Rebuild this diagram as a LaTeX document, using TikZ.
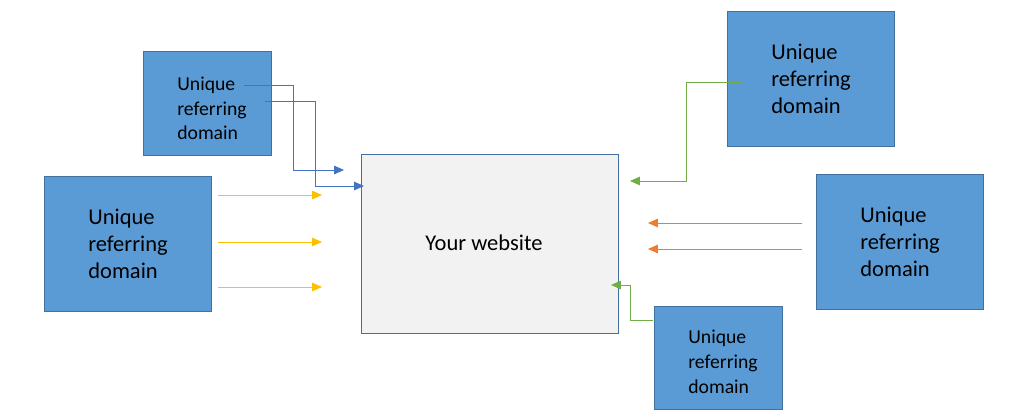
\documentclass[tikz,border=0pt]{standalone}
\usepackage{fontspec}
\setmainfont{Carlito}
\usetikzlibrary{arrows.meta,positioning}
\definecolor{boxblue}{HTML}{5B9BD5}
\definecolor{boxline}{HTML}{41719C}
\definecolor{webfill}{HTML}{F2F2F2}
\definecolor{linkblue}{HTML}{4472C4}
\definecolor{linkyellow}{HTML}{FFC000}
\definecolor{linkorange}{HTML}{ED7D31}
\definecolor{linkgreen}{HTML}{70AD47}

\begin{document}
\begin{tikzpicture}[x=0.025cm, y=-0.025cm,
		bigdomain/.style={draw=boxline, fill=boxblue, line width=0.7pt, align=left,
			minimum width=4.15cm, minimum height=3.35cm, font=\fontsize{16}{19.2}\selectfont},
		smalldomain/.style={draw=boxline, fill=boxblue, line width=0.7pt,
			minimum width=3.175cm, minimum height=2.575cm},
		smalltext/.style={align=left, font=\fontsize{14}{17.6}\selectfont},
		link/.style={line width=0.7pt, -{Triangle[length=7pt, width=6pt]}}]
		\useasboundingbox (0,0) rectangle (1013,418);

		% sites
		\node[draw=boxline, fill=webfill, line width=0.7pt, minimum width=6.4cm, minimum height=4.45cm] (web) at (490,244) {};
		\node[font=\fontsize{16}{19.2}\selectfont] (webtext) at (484,243) {Your website};

		\node[smalldomain] (domA) at (207.5,103.5) {};
		\node[smalltext] (domAtext) at (212,108.5) {Unique\\referring\\domain};
		\node[bigdomain] (domB) at (128,244) {Unique\\referring\\domain};
		\node[bigdomain] (domC) at (811,79) {Unique\\referring\\domain};
		\node[bigdomain] (domD) at (900,242) {Unique\\referring\\domain};
		\node[smalldomain] (domE) at (718.5,358) {};
		\node[smalltext] (domEtext) at (723,362) {Unique\\referring\\domain};

		% blue links
		\coordinate (a1) at (244,85);
		\coordinate (a2) at (265,101);
		\coordinate (w1) at (344,170);
		\coordinate (w2) at (364,186);
		\draw[link, linkblue] (a1) -| (293,170) -- (w1);
		\draw[link, linkblue] (a2) -| (315,186) -- (w2);

		% yellow links
		\foreach \y/\n in {195/1, 242/2, 287/3} {
			\coordinate (b\n) at (218,\y);
			\coordinate (y\n) at (322,\y);
			\draw[link, linkyellow] (b\n) -- (y\n);
		}

		% green links
		\coordinate (c1) at (742,82);
		\coordinate (w3) at (630,181);
		\draw[link, linkgreen] (c1) -| (686,181) -- (w3);

		\coordinate (e1) at (653,320);
		\coordinate (w4) at (611,285);
		\draw[link, linkgreen] (e1) -| (630,285) -- (w4);

		% orange links
		\foreach \y/\n in {223/1, 249/2} {
			\coordinate (d\n) at (802,\y);
			\coordinate (o\n) at (648,\y);
			\draw[link, linkorange] (d\n) -- (o\n);
		}
	\end{tikzpicture}
\end{document}
